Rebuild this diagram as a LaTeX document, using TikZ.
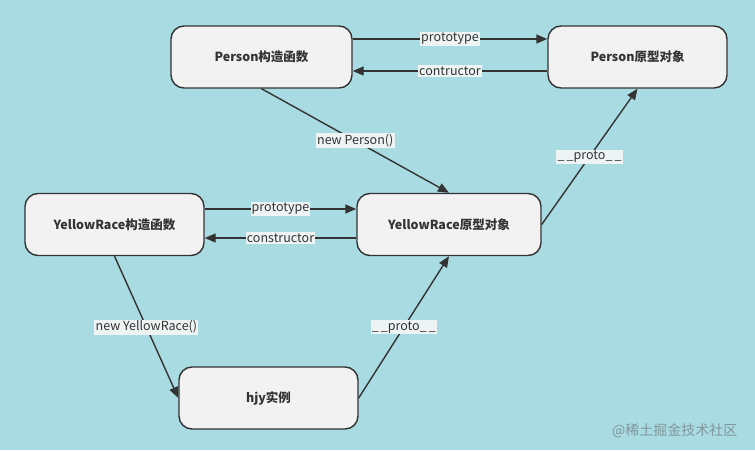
\documentclass[tikz,border=0pt]{standalone}
\usepackage{fontspec}
\setmainfont{Noto Sans CJK SC}
\usetikzlibrary{arrows.meta}
\definecolor{bgcyan}{RGB}{169,220,226}
\definecolor{boxfill}{RGB}{242,242,242}
\definecolor{inkgray}{RGB}{51,51,51}
\definecolor{tagfill}{RGB}{238,244,244}
\definecolor{markgray}{RGB}{128,150,156}
\begin{document}
\begin{tikzpicture}[x=1pt,y=-1pt]
		\tikzstyle{obj}=[draw=inkgray, line width=1.4pt, fill=boxfill, rounded corners=13pt, minimum height=62pt, text=inkgray, font=\fontsize{12.5}{14}\selectfont\bfseries]
		\tikzstyle{link}=[draw=inkgray, line width=1.4pt, -{Triangle[length=11pt,width=9pt]}]
		\tikzstyle{tag}=[fill=tagfill, text=inkgray, inner sep=1.2pt, font=\fontsize{12.5}{14}\selectfont]
		\fill [bgcyan] (0,0) rectangle (755,450);
		\useasboundingbox (0,0) rectangle (755,450);
		\node [obj, minimum width=181pt] (pc) at (261.5,57) {Person构造函数};
		\node [obj, minimum width=179pt] (pp) at (637.5,57) {Person原型对象};
		\node [obj, minimum width=179pt] (yc) at (114.5,224.5) {YellowRace构造函数};
		\node [obj, minimum width=184pt] (yp) at (449,224.5) {YellowRace原型对象};
		\node [obj, minimum width=179pt] (hjy) at (268.5,398) {hjy实例};
		\draw [link] ([yshift=18pt]pc.east) -- node [tag] {prototype} ([yshift=18pt]pp.west);
		\draw [link] ([yshift=-14pt]pp.west) -- node [tag] {contructor} ([yshift=-14pt]pc.east);
		\draw [link] (pc.south) -- node [tag] {new Person()} (yp.north);
		\draw [link] (yp.east) -- node [tag] {\_\,\_proto\_\,\_} (pp.south);
		\draw [link] ([yshift=15.5pt]yc.east) -- node [tag] {prototype} ([yshift=15.5pt]yp.west);
		\draw [link] ([yshift=-13.5pt]yp.west) -- node [tag] {constructor} ([yshift=-13.5pt]yc.east);
		\draw [link] (yc.south) -- node [tag] {new YellowRace()} (hjy.west);
		\draw [link] (hjy.east) -- node [tag] {\_\,\_proto\_\,\_} (yp.south);
		\node [text=markgray, font=\fontsize{14}{16}\selectfont, anchor=east] (mark) at (741,431) {@稀土掘金技术社区};
		\end{tikzpicture}
\end{document}
